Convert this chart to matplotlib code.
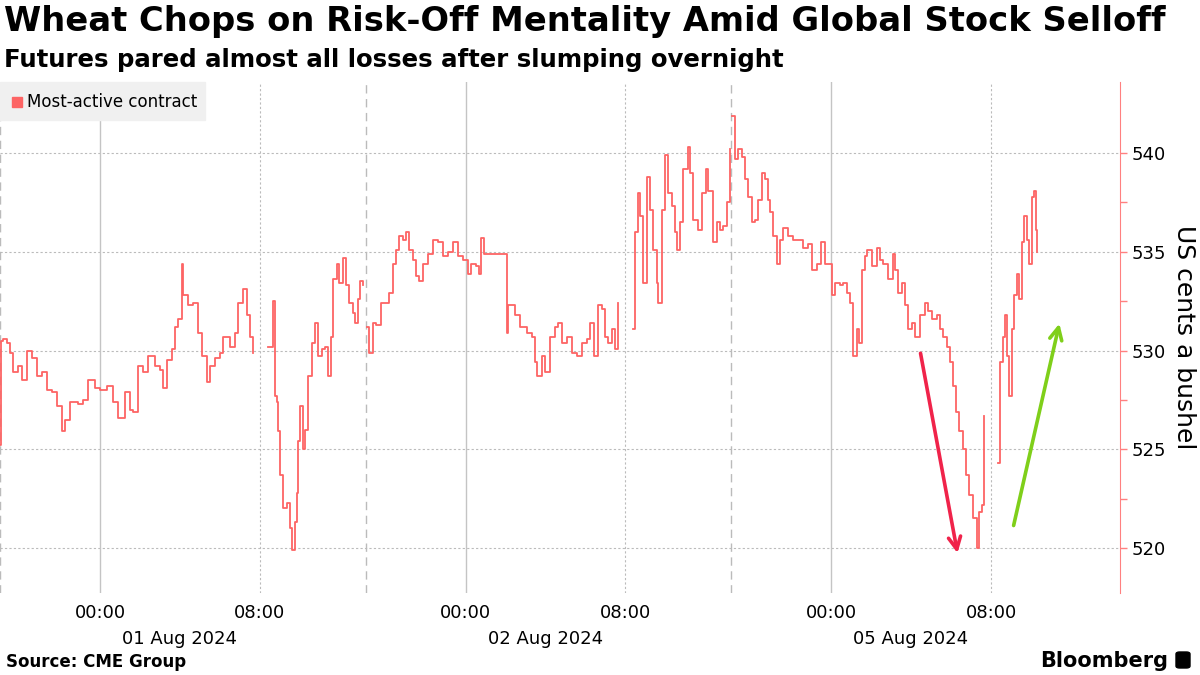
import numpy as np
import matplotlib
matplotlib.use("Agg")
import matplotlib.pyplot as plt
from matplotlib.patches import Rectangle, FancyBboxPatch

# minutes after the 19:00 open of each session, and price (US cents a bushel)
s1_minutes = [0, 3, 9, 21, 30, 39, 54, 66, 81, 96, 111, 126, 141, 156, 171, 186, 195, 210,
              234, 249, 264, 285, 300, 321, 339, 354, 375, 390, 399, 414, 429, 444, 465, 480,
              489, 501, 516, 525, 534, 546, 549, 564, 579, 594, 606, 621, 630, 645, 660, 669,
              690, 705, 714, 729, 741, 750, 759,
              804, 819, 825, 831, 834, 840, 849, 861, 870, 876, 885, 891, 894, 900, 909, 915,
              924, 936, 945, 954, 966, 975, 984, 993, 999, 1011, 1017, 1029, 1038, 1047, 1059,
              1065, 1074, 1080, 1089]
s1_prices = [525.2, 530.5, 530.6, 530.4, 529.9, 528.9, 529.2, 528.5, 530.0, 529.6, 528.7, 528.9,
             528.0, 527.9, 527.2, 525.9, 526.5, 527.4, 527.3, 527.5, 528.5, 528.1, 528.0, 528.2,
             527.4, 526.6, 527.9, 527.0, 526.9, 529.2, 528.9, 529.7, 529.2, 529.0, 528.1, 529.5,
             530.1, 531.2, 531.6, 534.4, 532.8, 532.3, 532.4, 530.9, 529.7, 528.4, 529.2, 529.6,
             529.9, 530.7, 530.2, 530.9, 532.4, 533.1, 531.8, 530.7, 529.9,
             530.2, 532.5, 527.7, 527.4, 525.9, 523.7, 522.0, 522.3, 521.0, 519.9, 521.3, 522.8,
             525.4, 527.2, 525.0, 526.0, 528.7, 530.4, 531.4, 529.7, 530.1, 530.2, 528.7, 530.7,
             533.6, 534.4, 533.4, 534.7, 533.3, 532.4, 531.9, 531.4, 532.6, 533.5, 533.3]

s2_minutes = [3, 9, 21, 30, 45, 60, 69, 81, 90, 99, 111, 120, 129, 141, 150, 159, 171, 186, 201,
              216, 231, 246, 261, 276, 291, 306, 315, 330, 339, 345, 354, 375, 396, 420, 426,
              429, 435, 450, 465, 486, 501, 510, 516, 531, 540, 555, 570, 579, 591, 606, 621,
              636, 651, 666, 675, 687, 699, 711, 720, 729, 741, 750, 759,
              804, 810, 819, 825, 834, 846, 855, 864, 876, 879, 891, 900, 909, 921, 930, 936,
              945, 954, 969, 975, 984, 999, 1011, 1023, 1029, 1044, 1056, 1065, 1074, 1086, 1095]
s2_prices = [531.2, 529.9, 531.4, 531.3, 532.4, 532.4, 532.9, 534.4, 535.1, 535.8, 535.6, 536.0,
             535.1, 534.6, 533.8, 533.5, 534.4, 534.9, 535.6, 535.5, 534.8, 535.0, 535.5, 534.8,
             534.6, 533.9, 534.4, 534.3, 533.9, 535.7, 534.9, 534.9, 534.9, 534.9, 530.9, 532.3,
             532.3, 531.8, 531.2, 530.9, 530.7, 529.4, 528.7, 529.7, 528.9, 530.7, 531.2, 531.4,
             530.4, 530.7, 529.9, 529.7, 530.4, 530.6, 531.4, 529.7, 532.3, 532.1, 530.7, 530.4,
             531.1, 530.1, 532.4,
             531.1, 536.0, 538.0, 536.8, 533.4, 538.8, 537.1, 535.1, 533.4, 532.4, 537.1, 539.9,
             538.0, 537.3, 536.0, 535.1, 536.5, 539.2, 540.3, 539.0, 536.6, 536.1, 538.0, 539.2,
             538.1, 535.5, 536.5, 536.1, 536.3, 537.5, 540.2]

s3_minutes = [3, 12, 21, 33, 42, 51, 63, 72, 81, 93, 102, 111, 117, 126, 138, 147, 156, 171,
              186, 201, 216, 231, 243, 258, 270, 282, 291, 303, 312, 327, 336, 348, 357, 366,
              378, 384, 393, 402, 408, 423, 438, 447, 456, 471, 486, 492, 501, 513, 522, 531,
              543, 552, 567, 582, 591, 603, 618, 627, 636, 648, 657, 666, 675, 684, 696, 705,
              714, 726, 738, 744, 753, 759,
              801, 807, 816, 822, 828, 834, 843, 849, 858, 864, 873, 879, 888, 894, 903, 909,
              915, 918]
s3_prices = [541.9, 539.7, 540.2, 539.8, 538.7, 537.8, 536.5, 536.6, 537.6, 539.0, 538.7, 537.6,
             537.0, 535.8, 534.4, 535.6, 536.2, 535.8, 535.6, 535.6, 535.2, 535.4, 534.1, 534.4,
             535.5, 534.4, 534.4, 532.8, 533.4, 533.3, 533.4, 532.9, 532.4, 529.7, 531.1, 530.4,
             534.1, 534.8, 535.1, 534.3, 535.2, 534.6, 534.4, 533.6, 534.9, 534.1, 532.9, 533.4,
             532.3, 531.1, 531.4, 530.7, 531.8, 532.4, 532.0, 531.6, 531.8, 531.1, 530.7, 530.2,
             529.4, 528.2, 526.9, 525.9, 525.0, 523.7, 522.7, 521.5, 520.0, 521.8, 522.2, 526.7,
             524.3, 529.4, 530.7, 531.8, 529.7, 527.7, 531.1, 532.8, 533.9, 532.6, 535.5, 536.8,
             535.6, 534.4, 537.8, 538.1, 536.1, 535.0]

session_dates = ["01 Aug 2024", "02 Aug 2024", "05 Aug 2024"]
hour_ticks = ["00:00", "08:00"]

# annotation arrows on the last session: (minute, price) start -> end
down_arrow = [(567, 530.0), (681, 519.6)]
up_arrow = [(846, 521.0), (987, 531.5)]

SESSION_SPAN = 1097  # minutes from 19:00 open to 13:20 close, roughly
LINE_RED = "#fd6464"


def session_xy(idx, minutes, prices):
    x = idx * SESSION_SPAN + np.asarray(minutes, float)
    y = np.asarray(prices, float)
    # break the line over the 07:45-08:30 halt
    cut = np.where(np.diff(x) > 25)[0]
    x = np.insert(x, cut + 1, np.nan)
    y = np.insert(y, cut + 1, np.nan)
    return x, y


fig = plt.figure(figsize=(12, 6.75), dpi=100)
ax = fig.add_axes([0, 0.1215, 0.9333, 0.757])

for i, (m, p) in enumerate([(s1_minutes, s1_prices), (s2_minutes, s2_prices), (s3_minutes, s3_prices)]):
    x, y = session_xy(i, m, p)
    ax.plot(x, y, color=LINE_RED, lw=1.3, drawstyle="steps-post", zorder=3)

ax.set_xlim(0, 2 * SESSION_SPAN + 1167)
ax.set_ylim(517.72, 543.6)

# grid
for v in range(520, 541, 5):
    ax.axhline(v, color="#bbbbbb", lw=0.8, ls=(0, (2, 2)), zorder=1)
for i in range(3):
    base = i * SESSION_SPAN
    ax.axvline(base, color="#bbbbbb", lw=1.0, ls=(0, (6, 4)), zorder=1)
    ax.axvline(base + 300, color="#c4c4c4", lw=1.0, zorder=1)
    ax.axvline(base + 780, color="#bbbbbb", lw=0.8, ls=(0, (2, 2)), zorder=1)

# x ticks: clock times, dates underneath
xt, xl = [], []
for i in range(3):
    xt += [i * SESSION_SPAN + 300, i * SESSION_SPAN + 780]
    xl += hour_ticks
ax.set_xticks(xt)
ax.set_xticklabels(xl, fontsize=13)
ax.tick_params(axis="x", length=0, pad=8)
for i, d in enumerate(session_dates):
    ax.text(i * SESSION_SPAN + 540, -0.073, d, transform=ax.get_xaxis_transform(),
            ha="center", va="top", fontsize=13)

# right axis
for s in ["top", "left", "bottom"]:
    ax.spines[s].set_visible(False)
ax.spines["right"].set_color("#ff8080")
ax.yaxis.tick_right()
ax.set_yticks(range(520, 541, 5))
ax.set_yticks(np.arange(522.5, 541, 5), minor=True)
ax.tick_params(axis="y", which="both", colors="#ff8080", labelcolor="black",
               labelsize=13, length=5, width=1)
ax.yaxis.set_label_position("right")
ax.set_ylabel("US cents a bushel", rotation=-90, fontsize=18, labelpad=4, va="bottom")

# arrows
ax.annotate("", xy=(2 * SESSION_SPAN + down_arrow[1][0], down_arrow[1][1]),
            xytext=(2 * SESSION_SPAN + down_arrow[0][0], down_arrow[0][1]),
            arrowprops=dict(arrowstyle="->", color="#f0234a", lw=2.6, mutation_scale=22))
ax.annotate("", xy=(2 * SESSION_SPAN + up_arrow[1][0], up_arrow[1][1]),
            xytext=(2 * SESSION_SPAN + up_arrow[0][0], up_arrow[0][1]),
            arrowprops=dict(arrowstyle="->", color="#7fcf1a", lw=2.6, mutation_scale=22))

# legend box
fig.patches.append(Rectangle((0, 1 - 120 / 675), 205 / 1200, 38 / 675, transform=fig.transFigure,
                             color="#f0f0f0", zorder=0))
fig.patches.append(Rectangle((12 / 1200, 1 - 107 / 675), 10 / 1200, 10 / 675, transform=fig.transFigure,
                             color=LINE_RED, zorder=1))
fig.text(27 / 1200, 1 - 102 / 675, "Most-active contract", fontsize=12, va="center")

# titles
fig.text(4 / 1200, 1 - 22 / 675, "Wheat Chops on Risk-Off Mentality Amid Global Stock Selloff",
         fontsize=24.3, fontweight="bold", va="center")
fig.text(4 / 1200, 1 - 60 / 675, "Futures pared almost all losses after slumping overnight",
         fontsize=17.6, fontweight="bold", va="center")
fig.text(6 / 1200, 1 - 662 / 675, "Source: CME Group", fontsize=12, fontweight="bold", va="center")
fig.text(1168 / 1200, 1 - 661 / 675, "Bloomberg", fontsize=15, fontweight="bold", va="center", ha="right")
fig.patches.append(FancyBboxPatch((1176 / 1200, 1 - 668 / 675), 14 / 1200, 16 / 675,
                                  boxstyle="round,pad=0,rounding_size=0.003",
                                  transform=fig.transFigure, color="black"))

fig.savefig("out.png", dpi=100)
